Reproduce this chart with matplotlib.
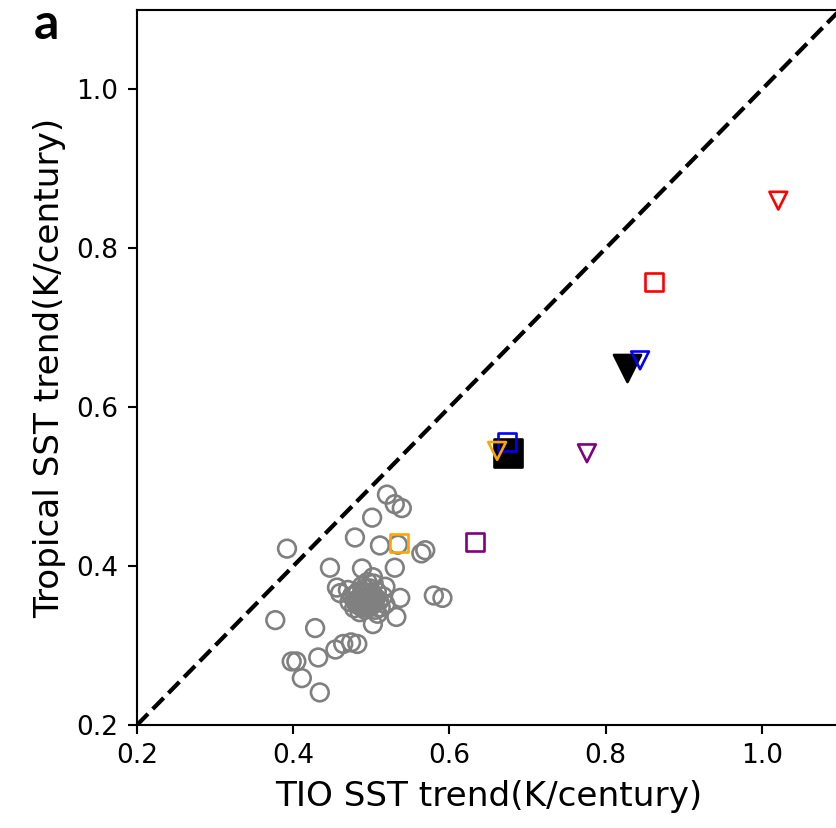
import numpy as np
import matplotlib
matplotlib.use("Agg")
import matplotlib.pyplot as plt

# ---- data ----
# grey circles: individual members (scattered)
grey_x = [0.520, 0.530, 0.539, 0.501, 0.479, 0.392, 0.511, 0.534, 0.564, 0.569,
          0.447, 0.488, 0.530, 0.502, 0.456, 0.460, 0.537, 0.580, 0.591, 0.532,
          0.502, 0.377, 0.428, 0.454, 0.464, 0.474, 0.482, 0.432, 0.398, 0.404,
          0.411, 0.434, 0.518]
grey_y = [0.490, 0.478, 0.473, 0.461, 0.436, 0.422, 0.426, 0.427, 0.416, 0.420,
          0.398, 0.397, 0.398, 0.386, 0.373, 0.366, 0.360, 0.363, 0.360, 0.336,
          0.327, 0.332, 0.322, 0.295, 0.302, 0.304, 0.302, 0.285, 0.280, 0.280,
          0.259, 0.241, 0.374]
# dense cluster around (0.49, 0.36)
clus_x = [0.470, 0.475, 0.480, 0.483, 0.486, 0.488, 0.490, 0.492, 0.494, 0.496,
          0.498, 0.500, 0.502, 0.505, 0.507, 0.510, 0.512, 0.515, 0.485, 0.478,
          0.495, 0.503, 0.508, 0.518, 0.472, 0.482, 0.487, 0.491, 0.493, 0.497,
          0.499, 0.501, 0.504, 0.489, 0.484, 0.479, 0.496, 0.506, 0.492, 0.500,
          0.488, 0.494, 0.486, 0.498, 0.481]
clus_y = [0.370, 0.362, 0.355, 0.368, 0.350, 0.375, 0.360, 0.345, 0.366, 0.355,
          0.372, 0.350, 0.362, 0.345, 0.368, 0.356, 0.348, 0.362, 0.342, 0.347,
          0.380, 0.378, 0.340, 0.352, 0.355, 0.358, 0.364, 0.352, 0.358, 0.362,
          0.358, 0.356, 0.354, 0.368, 0.356, 0.364, 0.348, 0.360, 0.372, 0.366,
          0.348, 0.353, 0.360, 0.352, 0.352]

# black filled markers
blk_sq = (0.675, 0.543)
blk_tri = (0.827, 0.650)

# open coloured markers
col_x = [0.674, 0.844, 0.661, 0.862, 1.021, 0.633, 0.776, 0.535]
col_y = [0.556, 0.659, 0.545, 0.758, 0.860, 0.430, 0.542, 0.429]
col_c = ["blue", "blue", "orange", "red", "red", "purple", "purple", "orange"]
col_m = ["s", "v", "v", "s", "v", "s", "v", "s"]

ticks = [0.2, 0.4, 0.6, 0.8, 1.0]

fig = plt.figure(figsize=(836/190, 828/190), dpi=190)
ax = fig.add_axes([0.1639, 0.1244, 0.8409, 0.8635])

ax.plot([0.2, 1.1], [0.2, 1.1], "k--", lw=1.6, zorder=1)

ax.scatter(grey_x + clus_x, grey_y + clus_y, s=45, facecolors="none",
           edgecolors="grey", linewidths=1.0, zorder=2)

ax.scatter([blk_sq[0]], [blk_sq[1]], s=105, marker="s", color="black", zorder=3)
ax.scatter([blk_tri[0]], [blk_tri[1]], s=105, marker="v", color="black", zorder=3)

for x, y, c, m in zip(col_x, col_y, col_c, col_m):
    ax.scatter([x], [y], s=45, marker=m, facecolors="none", edgecolors=c,
               linewidths=1.0, zorder=4)

ax.set_xlim(0.2, 1.1)
ax.set_ylim(0.2, 1.1)
ax.set_xticks(ticks)
ax.set_yticks(ticks)
ax.tick_params(labelsize=10)
ax.set_xlabel("TIO SST trend(K/century)", fontsize=13)
ax.set_ylabel("Tropical SST trend(K/century)", fontsize=13)

fig.text(0.055, 0.953, "a", fontsize=19, fontweight="bold", ha="center",
         va="baseline", family=["Lato", "DejaVu Sans"])

fig.savefig("out.png", dpi=190)
